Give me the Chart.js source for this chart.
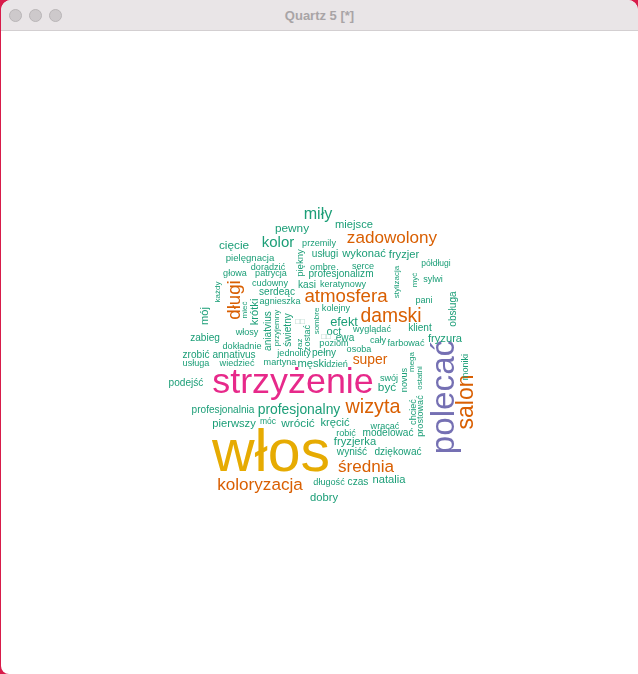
<!DOCTYPE html>
<html>
<head>
<meta charset="utf-8">
<script src="https://cdn.jsdelivr.net/npm/chart.js@4/dist/chart.umd.min.js"></script>
<style>
html,body{margin:0;padding:0;width:638px;height:674px;overflow:hidden;background:#d81b4a;}
#win{position:absolute;left:1px;top:0;width:637px;height:674px;background:#fff;border-radius:10px 10px 0 8px;overflow:hidden;}
#bar{position:absolute;left:0;top:0;width:100%;height:30px;background:#e9e5e7;border-bottom:1px solid #d3cfd1;}
#bar .dot{position:absolute;top:9px;width:11px;height:11px;border-radius:50%;background:#cdc9cb;border:1px solid #b9b5b7;}
#bar .title{position:absolute;left:0;right:0;top:8px;text-align:center;font:bold 13px "Liberation Sans",Arial,sans-serif;color:#a8a4a6;}
#box{position:absolute;left:69px;top:120px;width:500px;height:500px;}
</style>
</head>
<body>
<div id="win">
  <div id="bar">
    <div class="dot" style="left:8px"></div>
    <div class="dot" style="left:28px"></div>
    <div class="dot" style="left:48px"></div>
    <div class="title">Quartz 5 [*]</div>
  </div>
  <div id="box"><canvas id="cloud"></canvas></div>
</div>
<script>
// words, how often they occur, colour group, where the cloud put them (0-100 plot units) and whether turned upright
const words=['włos','strzyżenie','polecać','salon','wizyta','damski','atmosfera','długi','średnia','koloryzacja',
'zadowolony','super','miły','kolor','profesjonalny','efekt','wrócić','być','pewny','cięcie',
'krótki','mój','miejsce','wykonać','fryzjer','fryzura','fryzjerka','kręcić','natalia','dobry',
'pierwszy','męski','oct','obsługa','świetny','aniatvius','zabieg','zrobić','annativus','podejść',
'kasi','profesjonalizm','usługi','serdeąc','klient','ewa','pełny','modelować','wyniść','dziękować',
'czas','pielęgnacja','przemily','piękny','doradzić','ombre','serce','półdługi','głowa','patrycja',
'stylizacja','myć','sylwi','cudowny','keratynowy','każdy','pani','agnieszka','mieć','włosy',
'przyjemny','raz','zostać','sombre','kolejny','wyglądać','poziom','cały','farbować','osoba',
'jednolity','dokładnie','usługa','wiedzieć','martyna','dzień','swój','novus','mega','ostatni',
'moniki','chcieć','prostować','profesjonalnia','móc','wracać','robić','długość','□□','□□'];
const freq=[100,57,52,33,27,26,25,25,22,22,
22,16,20,18,16,14,12,12,12,12,
11,11,11,11,11,11,11,11,11,11,
11,11,11,9,9,9,9,9,9,9,
9,9,9,9,9,9,9,9,9,9,
9,8,7,8,7,7,7,6,7,7,
5,5,7,7,7,5,7,7,5,7,
5,5,7,5,7,7,7,7,7,7,
7,7,7,7,7,7,7,7,5,5,
7,7,7,9,6,7,7,7,5,5];
const group=[5,3,2,1,1,1,1,1,1,1,
1,1,0,0,0,0,0,0,0,0,
0,0,0,0,0,0,0,0,0,0,
0,0,0,0,0,0,0,0,0,0,
0,0,0,0,0,0,0,0,0,0,
0,0,0,0,0,0,0,0,0,0,
0,0,0,0,0,0,0,0,0,0,
0,0,0,0,0,0,0,0,0,0,
0,0,0,0,0,0,0,0,0,0,
0,0,0,0,0,0,0,0,0,0];
const posX=[40.2,44.6,75.0,79.4,60.6,64.2,55.2,33.0,59.2,38.0,
64.4,60.0,49.6,41.6,45.8,54.8,45.6,63.4,44.4,32.8,
37.0,27.0,56.8,58.8,66.8,75.0,57.0,53.0,63.8,50.8,
32.8,48.4,52.8,76.6,43.6,39.6,27.0,25.2,32.8,23.2,
47.4,54.2,51.0,41.4,70.0,55.0,50.8,63.6,56.4,65.6,
57.6,36.0,49.8,46.0,39.6,50.6,58.6,73.2,33.0,40.2,
65.4,69.0,72.6,40.0,54.6,29.6,70.8,42.0,35.0,35.4,
41.4,46.0,47.4,49.4,53.2,60.4,52.8,61.6,67.2,57.8,
44.8,34.4,25.2,33.4,42.0,53.4,63.8,66.8,68.4,70.0,
79.0,68.6,70.0,30.6,39.6,63.0,55.2,51.8,46.0,51.2];
const posY=[67.0,52.6,55.4,56.4,57.6,39.4,35.4,36.0,69.4,73.0,
23.6,48.0,19.0,24.6,58.0,40.4,60.8,53.6,21.8,25.2,
38.4,39.2,21.0,26.8,27.0,43.8,64.4,60.6,72.0,75.6,
60.8,48.8,42.4,37.8,42.0,42.2,43.6,47.0,47.0,52.6,
33.0,30.8,26.8,34.4,41.6,43.6,46.6,62.6,66.4,66.4,
72.4,27.6,24.6,28.6,29.4,29.4,29.2,28.8,30.6,30.6,
32.4,32.0,31.8,32.6,32.8,34.4,36.0,36.2,38.0,42.4,
41.6,44.8,43.6,40.2,37.6,41.8,44.6,44.0,44.6,45.9,
46.6,45.2,48.6,48.6,48.4,48.8,51.6,52.0,48.4,51.6,
49.4,58.4,59.2,58.0,60.4,61.2,62.6,72.4,40.4,43.4];
const upright=[0,0,1,1,0,0,0,1,0,0,
0,0,0,0,0,0,0,0,0,0,
1,1,0,0,0,0,0,0,0,0,
0,0,0,1,1,1,0,0,0,0,
0,0,0,0,0,0,0,0,0,0,
0,0,0,1,0,0,0,0,0,0,
1,1,0,0,0,1,0,0,1,0,
1,1,1,1,0,0,0,0,0,0,
0,0,0,0,0,0,0,1,1,1,
1,1,1,0,0,0,0,0,0,0];

const palette=['#1B9E77','#D95F02','#7570B3','#E7298A','#66A61E','#E6AB02'];
const fMin=Math.min(...freq), fMax=Math.max(...freq);
const minPx=8, maxPx=59;
function sizeOf(f){ return minPx+(maxPx-minPx)*(f-fMin)/(fMax-fMin); }

const wordPlugin={
  id:'words',
  afterDatasetsDraw(chart){
    const ctx=chart.ctx, meta=chart.getDatasetMeta(0);
    ctx.save();
    ctx.textAlign='center'; ctx.textBaseline='middle';
    meta.data.forEach((pt,i)=>{
      ctx.save();
      ctx.translate(pt.x,pt.y);
      if(upright[i]) ctx.rotate(-Math.PI/2);
      ctx.font=sizeOf(freq[i]).toFixed(1)+'px "Liberation Sans", Arial, sans-serif';
      ctx.fillStyle=words[i]==='□□'?'#9fc9bb':palette[group[i]];
      ctx.fillText(words[i],0,0);
      ctx.restore();
    });
    ctx.restore();
  }
};

new Chart(document.getElementById('cloud'),{
  type:'scatter',
  data:{datasets:[{data:words.map((w,i)=>({x:posX[i],y:posY[i]})),pointRadius:0,pointHoverRadius:0}]},
  options:{
    responsive:true,maintainAspectRatio:false,animation:false,
    layout:{padding:0},
    plugins:{legend:{display:false},tooltip:{enabled:false}},
    scales:{
      x:{type:'linear',min:0,max:100,display:false},
      y:{type:'linear',min:0,max:100,reverse:true,display:false}
    }
  },
  plugins:[wordPlugin]
});
</script>
</body>
</html>
